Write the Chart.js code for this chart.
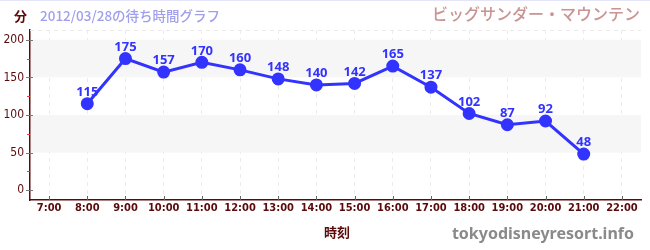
<!DOCTYPE html>
<html>
<head>
<meta charset="utf-8">
<script src="https://cdn.jsdelivr.net/npm/chart.js@4/dist/chart.umd.min.js"></script>
<style>
  html, body { margin: 0; padding: 0; background: #fff; }
  canvas { display: block; }
</style>
</head>
<body>
<canvas id="waitChart" width="650" height="250"></canvas>
<script>
const hours = [8, 9, 10, 11, 12, 13, 14, 15, 16, 17, 18, 19, 20, 21];
const waits = [115, 175, 157, 170, 160, 148, 140, 142, 165, 137, 102, 87, 92, 48];
const yTicks = [0, 50, 100, 150, 200];
const title = "ビッグサンダー・マウンテン";
const subtitle = "2012/03/28の待ち時間グラフ";
const yLabel = "分";
const xLabel = "時刻";
const credit = "tokyodisneyresort.info";

const axisRed = "#5a0a0a";
const lineBlue = "#3333ff";

const decor = {
  id: "decor",
  beforeDatasetsDraw(chart) {
    const { ctx, chartArea: a, scales: { x, y } } = chart;
    ctx.save();
    // top border of the frame
    ctx.fillStyle = "#e4e4fa";
    ctx.fillRect(0, 0, chart.width, 1);
    // bands
    ctx.fillStyle = "#f6f6f6";
    [[150, 200], [50, 100]].forEach(([lo, hi]) => {
      ctx.fillRect(a.left + 1, y.getPixelForValue(hi), a.right - a.left - 1, y.getPixelForValue(lo) - y.getPixelForValue(hi));
    });
    // top dashed line
    ctx.strokeStyle = "#ebebeb";
    ctx.setLineDash([4, 4]);
    ctx.beginPath();
    ctx.moveTo(a.left, a.top + 0.5);
    ctx.lineTo(a.right, a.top + 0.5);
    ctx.stroke();
    ctx.setLineDash([]);
    // y ticks
    ctx.lineWidth = 1;
    yTicks.forEach(v => {
      const py = Math.round(y.getPixelForValue(v)) + 0.5;
      ctx.strokeStyle = "#777";
      ctx.beginPath();
      ctx.moveTo(a.left - 4, py);
      ctx.lineTo(a.left + 3, py);
      ctx.stroke();
    });
    [25, 75, 125, 175].forEach(v => {
      const py = Math.round(y.getPixelForValue(v)) + 0.5;
      ctx.strokeStyle = "#ff3030";
      ctx.beginPath();
      ctx.moveTo(a.left - 3, py);
      ctx.lineTo(a.left, py);
      ctx.stroke();
    });
    // x ticks
    for (let h = 7; h <= 22; h++) {
      const px = Math.round(x.getPixelForValue(h)) + 0.5;
      ctx.strokeStyle = "#666";
      ctx.beginPath();
      ctx.moveTo(px, a.bottom - 4);
      ctx.lineTo(px, a.bottom);
      ctx.stroke();
    }
    ctx.restore();
  },
  afterDatasetsDraw(chart) {
    const { ctx, scales: { x, y } } = chart;
    ctx.save();
    ctx.font = "bold 13px 'Noto Sans'";
    ctx.fillStyle = lineBlue;
    ctx.textAlign = "center";
    ctx.textBaseline = "bottom";
    hours.forEach((h, i) => {
      ctx.fillText(String(waits[i]), x.getPixelForValue(h), y.getPixelForValue(waits[i]) - 5);
    });
    // texts
    ctx.textBaseline = "middle";
    ctx.textAlign = "left";
    ctx.font = "bold 13px 'Noto Sans CJK JP'";
    ctx.fillStyle = axisRed;
    ctx.fillText(yLabel, 14, 16);
    ctx.font = "500 13.5px 'Noto Sans CJK JP'";
    ctx.fillStyle = "#9f9fee";
    ctx.fillText(subtitle, 40, 16);
    ctx.textAlign = "right";
    ctx.font = "500 16px 'Noto Sans CJK JP'";
    ctx.fillStyle = "#c89494";
    ctx.fillText(title, 640, 14);
    ctx.textAlign = "center";
    ctx.font = "bold 13px 'Noto Sans CJK JP'";
    ctx.fillStyle = axisRed;
    ctx.fillText(xLabel, 337, 232);
    ctx.textAlign = "right";
    ctx.font = "bold 16px 'Noto Sans'";
    ctx.fillStyle = "#8a8a8a";
    ctx.fillText(credit, 634, 234);
    ctx.restore();
  }
};

new Chart(document.getElementById("waitChart"), {
  type: "line",
  data: {
    datasets: [{
      data: hours.map((h, i) => ({ x: h, y: waits[i] })),
      borderColor: lineBlue,
      backgroundColor: lineBlue,
      borderWidth: 3,
      pointRadius: 5,
      pointHoverRadius: 5,
      tension: 0
    }]
  },
  options: {
    responsive: false,
    animation: false,
    devicePixelRatio: 1,
    layout: { padding: { top: 30, right: 9, left: 0, bottom: 0 } },
    plugins: { legend: { display: false }, tooltip: { enabled: false } },
    scales: {
      x: {
        type: "linear",
        min: 6.5,
        max: 22.5,
        afterBuildTicks(axis) { axis.ticks = []; for (let h = 7; h <= 22; h++) axis.ticks.push({ value: h }); },
        afterFit(axis) { axis.height = 50; },
        ticks: {
          callback: v => v + ":00",
          color: axisRed,
          font: { family: "'DejaVu Sans Condensed'", size: 11, weight: "bold" },
          padding: 2,
          maxRotation: 0,
          autoSkip: false
        },
        grid: { color: "#ebebeb", tickLength: 0, drawTicks: false },
        border: { color: axisRed, width: 1.5, dash: [4, 4] }
      },
      y: {
        min: -13,
        max: 213,
        afterBuildTicks(axis) { axis.ticks = yTicks.map(v => ({ value: v })); },
        afterFit(axis) { axis.width = 30; },
        ticks: {
          color: axisRed,
          font: { family: "'DejaVu Sans Condensed'", size: 12 },
          padding: 6
        },
        grid: { display: false, drawTicks: false },
        border: { color: axisRed, width: 1.5 }
      }
    }
  },
  plugins: [decor]
});
</script>
</body>
</html>
